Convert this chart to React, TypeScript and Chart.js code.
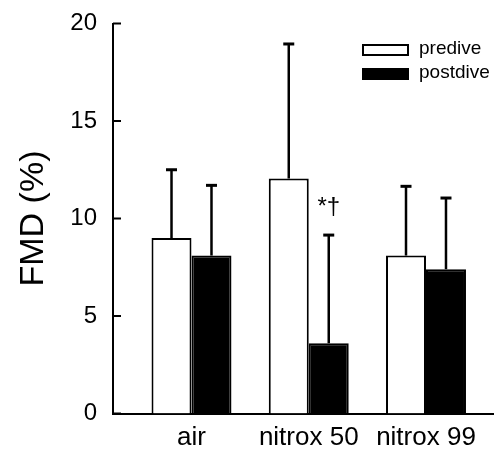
import React, { useEffect, useRef } from "react";
import { Chart, registerables } from "chart.js";

Chart.register(...registerables);

const categories = ["air", "nitrox 50", "nitrox 99"];
const seriesLabels = ["predive", "postdive"];
const predive = [9.0, 12.05, 8.1];
const postdive = [8.1, 3.6, 7.4];
const prediveErr = [3.5, 6.9, 3.55];
const postdiveErr = [3.6, 5.55, 3.65];
const yTicks = [0, 5, 10, 15, 20];
const yTitle = "FMD (%)";
const annotations = [{ category: 1, series: 1, text: "*†" }];

const FONT = "'Liberation Sans', Arial, sans-serif";

const decorPlugin = {
  id: "decor",
  afterDraw(chart: any) {
    const ctx = chart.ctx as CanvasRenderingContext2D;
    const y = chart.scales.y;
    const area = chart.chartArea;
    const vals = [predive, postdive];
    const errs = [prediveErr, postdiveErr];
    ctx.save();
    ctx.strokeStyle = "#000";
    ctx.fillStyle = "#000";

    // inward tick marks on y axis
    ctx.lineWidth = 2;
    yTicks.forEach((t) => {
      const py = y.getPixelForValue(t);
      ctx.beginPath();
      ctx.moveTo(area.left, py);
      ctx.lineTo(area.left + 8, py);
      ctx.stroke();
    });

    // error bars (upper only)
    chart.data.datasets.forEach((_ds: any, di: number) => {
      const meta = chart.getDatasetMeta(di);
      meta.data.forEach((bar: any, i: number) => {
        const base = y.getPixelForValue(vals[di][i]);
        const top = y.getPixelForValue(vals[di][i] + errs[di][i]);
        ctx.lineWidth = 2.5;
        ctx.beginPath();
        ctx.moveTo(bar.x, base);
        ctx.lineTo(bar.x, top);
        ctx.stroke();
        ctx.lineWidth = 3;
        ctx.beginPath();
        ctx.moveTo(bar.x - 5.5, top);
        ctx.lineTo(bar.x + 5.5, top);
        ctx.stroke();
      });
    });

    // significance annotations
    annotations.forEach((a) => {
      const bar = chart.getDatasetMeta(a.series).data[a.category];
      const v = vals[a.series][a.category] + errs[a.series][a.category];
      const py = y.getPixelForValue(v) - 28;
      ctx.font = `24px ${FONT}`;
      ctx.textAlign = "center";
      ctx.textBaseline = "middle";
      ctx.fillText(a.text, bar.x, py);
    });

    // legend
    const boxW = 45;
    const boxH = 10;
    const lx = area.right - 131;
    chart.data.datasets.forEach((ds: any, di: number) => {
      const by = area.top + 21.5 + di * 24;
      ctx.fillStyle = ds.backgroundColor;
      ctx.fillRect(lx, by, boxW, boxH);
      ctx.lineWidth = 2;
      ctx.strokeStyle = "#000";
      ctx.strokeRect(lx, by, boxW, boxH);
      ctx.fillStyle = "#000";
      ctx.font = `19px ${FONT}`;
      ctx.textAlign = "left";
      ctx.textBaseline = "middle";
      ctx.fillText(ds.label, lx + boxW + 11, by + boxH / 2 - 1);
    });

    // y axis title
    ctx.save();
    ctx.translate(34, (area.top + area.bottom) / 2);
    ctx.rotate(-Math.PI / 2);
    ctx.font = `34px ${FONT}`;
    ctx.textAlign = "center";
    ctx.textBaseline = "middle";
    ctx.fillStyle = "#000";
    ctx.fillText(yTitle, 0, 0);
    ctx.restore();

    ctx.restore();
  },
};

export default function App() {
  const ref = useRef<HTMLCanvasElement | null>(null);

  useEffect(() => {
    document.body.style.margin = "0";
    const canvas = ref.current;
    if (!canvas) return;
    const toPoints = (arr: number[]) => arr.map((v, i) => ({ x: i, y: v }));
    const chart = new Chart(canvas, {
      type: "bar",
      data: {
        datasets: [
          {
            label: seriesLabels[0],
            data: toPoints(predive) as any,
            backgroundColor: "#ffffff",
            borderColor: "#000000",
            borderWidth: 2,
            categoryPercentage: 0.682,
            barPercentage: 1,
          },
          {
            label: seriesLabels[1],
            data: toPoints(postdive) as any,
            backgroundColor: "#000000",
            borderColor: "#000000",
            borderWidth: 2,
            categoryPercentage: 0.682,
            barPercentage: 1,
          },
        ],
      },
      options: {
        animation: false,
        responsive: false,
        maintainAspectRatio: false,
        devicePixelRatio: 1,
        layout: { padding: { top: 23.5, right: 0, left: 0, bottom: 0 } },
        plugins: {
          legend: { display: false },
          tooltip: { enabled: false },
        },
        scales: {
          x: {
            type: "linear",
            offset: false,
            min: -0.6695,
            max: 2.58,
            grid: { display: false, drawTicks: false },
            border: { display: true, color: "#000", width: 2 },
            afterBuildTicks: (scale: any) => {
              scale.ticks = categories.map((_c, i) => ({ value: i }));
            },
            afterFit: (scale: any) => {
              scale.height = 38.5;
              scale.paddingLeft = 0;
              scale.paddingRight = 0;
            },
            ticks: {
              autoSkip: false,
              maxRotation: 0,
              padding: 9,
              color: "#000",
              font: { family: FONT, size: 26 },
              callback: (v: any) => categories[v] ?? "",
            },
          },
          y: {
            min: 0,
            max: 20,
            afterBuildTicks: (scale: any) => {
              scale.ticks = yTicks.map((v) => ({ value: v }));
            },
            afterFit: (scale: any) => {
              scale.width = 113;
              scale.paddingTop = 0;
              scale.paddingBottom = 0;
            },
            grid: { display: false, drawTicks: false },
            border: { display: true, color: "#000", width: 2 },
            ticks: {
              padding: 16,
              color: "#000",
              font: { family: FONT, size: 24 },
            },
          },
        },
      },
      plugins: [decorPlugin],
    });
    return () => chart.destroy();
  }, []);

  return (
    <div style={{ width: 494, height: 452 }}>
      <canvas ref={ref} width={494} height={452} style={{ display: "block" }} />
    </div>
  );
}
